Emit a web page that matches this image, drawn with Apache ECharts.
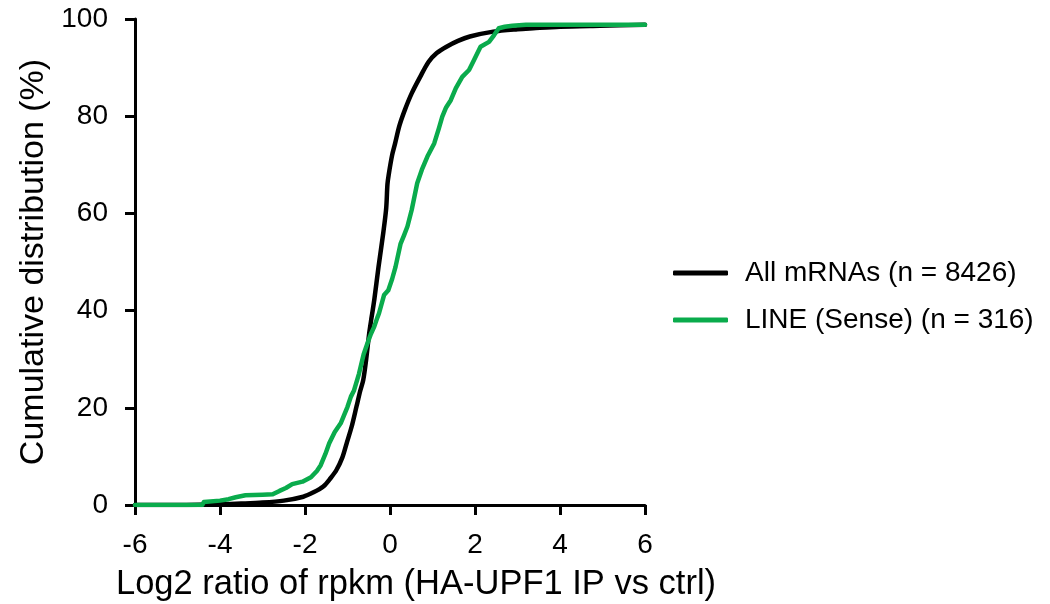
<!DOCTYPE html>
<html>
<head>
<meta charset="utf-8">
<script src="https://cdn.jsdelivr.net/npm/echarts@6/dist/echarts.min.js"></script>
<style>
html,body{margin:0;padding:0;background:#fff;}
#chart{width:1050px;height:604px;}
</style>
</head>
<body>
<div id="chart"></div>
<script>
// Series names
const seriesNames = ['All mRNAs (n = 8426)', 'LINE (Sense) (n = 316)'];
// Axis ticks
const xTicks = [-6, -4, -2, 0, 2, 4, 6];
const yTicks = [0, 20, 40, 60, 80, 100];

// All mRNAs: x = log2 ratio, y = cumulative %
const allX = [-6, -5, -4.5, -4, -3.5, -3, -2.5, -2.04, -1.8, -1.57, -1.4, -1.26, -1.12, -1.02, -0.9, -0.79, -0.7, -0.63, -0.56, -0.49, -0.43, -0.37, -0.27, -0.16, -0.09, -0.06, -0.03, 0.05, 0.12, 0.22, 0.35, 0.51, 0.71, 0.91, 1.1, 1.33, 1.6, 1.88, 2.43, 3.0, 3.37, 4.0, 4.94, 6];
const allY = [0, 0, 0.05, 0.15, 0.3, 0.5, 0.9, 1.7, 2.6, 3.8, 5.5, 7.2, 9.8, 12.7, 16.2, 20.2, 23.5, 25.7, 30, 35.3, 38.8, 42.2, 49, 55.9, 61, 66, 68, 72, 74.4, 78, 81.3, 84.7, 88.1, 91.2, 93, 94.3, 95.5, 96.4, 97.4, 97.9, 98.1, 98.4, 98.6, 98.8];

// LINE (Sense)
const lineX = [-6, -4.42, -4.38, -4.0, -3.8, -3.63, -3.4, -3.0, -2.76, -2.6, -2.45, -2.3, -2.06, -1.86, -1.72, -1.63, -1.52, -1.43, -1.3, -1.16, -1.08, -1.0, -0.92, -0.85, -0.73, -0.62, -0.53, -0.45, -0.37, -0.3, -0.26, -0.14, -0.04, 0.05, 0.13, 0.25, 0.33, 0.41, 0.51, 0.56, 0.64, 0.75, 0.88, 1.04, 1.15, 1.23, 1.32, 1.43, 1.55, 1.7, 1.86, 1.98, 2.13, 2.33, 2.45, 2.56, 2.7, 2.88, 3.2, 6];
const lineY = [0, 0, 0.6, 0.9, 1.2, 1.6, 2.0, 2.1, 2.2, 2.9, 3.5, 4.3, 4.8, 5.7, 7.0, 8.2, 10.5, 12.7, 15, 16.8, 18.5, 20.2, 22.3, 23.5, 27, 31, 33.3, 35.2, 36.7, 38.5, 39.4, 43.2, 44.2, 46.5, 49, 53.8, 55.5, 57.3, 60.7, 62.8, 66.2, 69, 71.7, 74.4, 77.5, 79.9, 81.8, 83.3, 85.8, 88.1, 89.5, 91.6, 94.3, 95.3, 96.7, 98.1, 98.4, 98.6, 98.8, 98.8];

const zip = (xs, ys) => xs.map((x, i) => [x, ys[i]]);
const FONT = "'Liberation Sans', Arial, Helvetica, sans-serif";
const BLACK = '#000';
const GREEN = '#0aab4c';

const chart = echarts.init(document.getElementById('chart'));
chart.setOption({
  animation: false,
  backgroundColor: '#fff',
  textStyle: { fontFamily: FONT, color: '#000' },
  grid: { left: 135, right: 405, top: 19, bottom: 99, containLabel: false, outerBoundsMode: 'none' },
  legend: {
    orient: 'vertical',
    left: 668,
    top: 254,
    icon: 'roundRect',
    itemWidth: 55,
    itemHeight: 5,
    itemGap: 19,
    data: seriesNames,
    textStyle: { fontFamily: FONT, fontSize: 28, color: '#000', padding: [0, 0, 0, 12], lineHeight: 28 }
  },
  xAxis: {
    type: 'value',
    min: xTicks[0],
    max: xTicks[xTicks.length - 1],
    interval: 2,
    name: 'Log2 ratio of rpkm (HA-UPF1 IP vs ctrl)',
    nameLocation: 'middle',
    nameGap: 62,
    nameTextStyle: { fontFamily: FONT, fontSize: 34.5, color: '#000', padding: [0, 0, 0, 52] },
    axisLine: { onZero: false, lineStyle: { color: '#000', width: 3 } },
    axisTick: { length: 10, lineStyle: { color: '#000', width: 3 } },
    axisLabel: { fontFamily: FONT, fontSize: 28, color: '#000', margin: 26 },
    splitLine: { show: false }
  },
  yAxis: {
    type: 'value',
    min: yTicks[0],
    max: yTicks[yTicks.length - 1],
    interval: 20,
    name: 'Cumulative distribution (%)',
    nameLocation: 'middle',
    nameGap: 84,
    nameTextStyle: { fontFamily: FONT, fontSize: 34, color: '#000' },
    axisLine: { show: true, onZero: false, lineStyle: { color: '#000', width: 3 } },
    axisTick: { show: true, length: 10, lineStyle: { color: '#000', width: 3 } },
    axisLabel: { fontFamily: FONT, fontSize: 28, color: '#000', margin: 27 },
    splitLine: { show: false }
  },
  series: [
    {
      name: seriesNames[0],
      type: 'line',
      data: zip(allX, allY),
      symbol: 'none',
      smooth: 0.3,
      lineStyle: { color: BLACK, width: 4.5, cap: 'round', join: 'round' },
      itemStyle: { color: BLACK },
      z: 2
    },
    {
      name: seriesNames[1],
      type: 'line',
      data: zip(lineX, lineY),
      symbol: 'none',
      lineStyle: { color: GREEN, width: 4.5, cap: 'round', join: 'round' },
      itemStyle: { color: GREEN },
      z: 3
    }
  ]
});
</script>
</body>
</html>
